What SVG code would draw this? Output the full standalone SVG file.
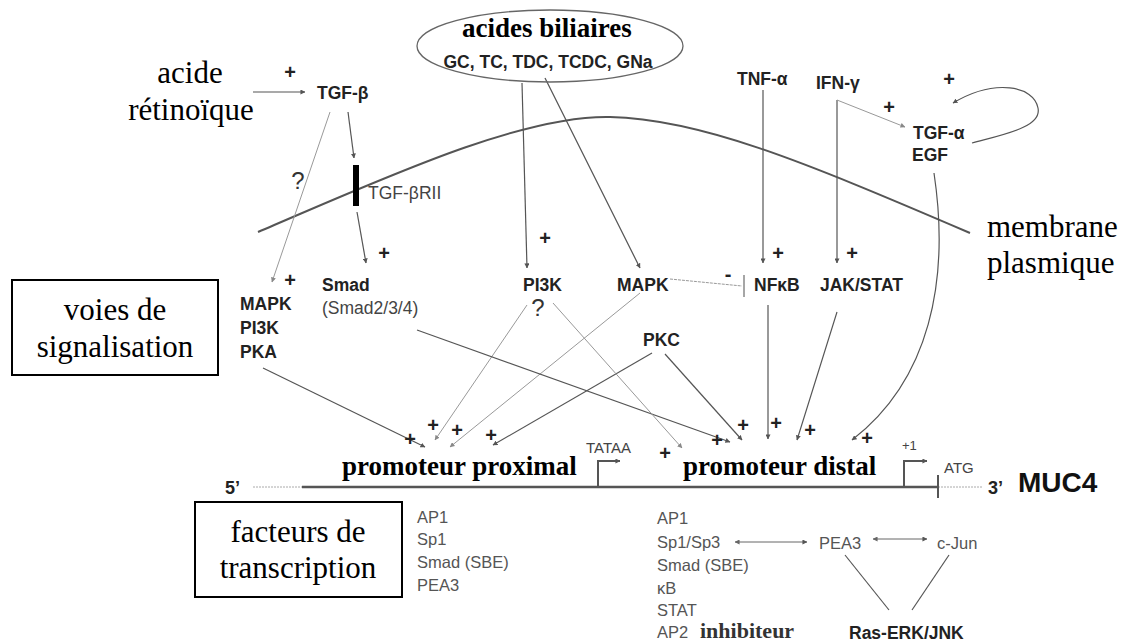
<svg xmlns="http://www.w3.org/2000/svg" width="1130" height="644" viewBox="0 0 1130 644">
<defs>
<marker id="ah" viewBox="0 0 6 6" refX="5.5" refY="3" markerWidth="5" markerHeight="5" markerUnits="userSpaceOnUse" orient="auto"><path d="M0,0 L6,3 L0,6 z" fill="#555"/></marker>
<marker id="ahl" viewBox="0 0 6 6" refX="5.5" refY="3" markerWidth="5" markerHeight="5" markerUnits="userSpaceOnUse" orient="auto"><path d="M0,0 L6,3 L0,6 z" fill="#888"/></marker>
<marker id="ahs" viewBox="0 0 6 6" refX="0.5" refY="3" markerWidth="5" markerHeight="5" markerUnits="userSpaceOnUse" orient="auto"><path d="M6,0 L0,3 L6,6 z" fill="#666"/></marker>
<style>
.ser{font-family:"Liberation Serif","Times New Roman",serif;font-size:31px;fill:#000}
.serb{font-family:"Liberation Serif","Times New Roman",serif;font-size:27px;font-weight:bold;fill:#000}
.lbl{font-family:"Liberation Sans",Arial,sans-serif;font-size:17.5px;font-weight:bold;fill:#222}
.reg{font-family:"Liberation Sans",Arial,sans-serif;font-size:17.5px;fill:#444}
.tf{font-family:"Liberation Sans",Arial,sans-serif;font-size:16.5px;fill:#555}
.sm{font-family:"Liberation Sans",Arial,sans-serif;font-size:15px;fill:#444}
.plus{font-family:"Liberation Sans",Arial,sans-serif;font-size:20px;font-weight:bold;fill:#222;text-anchor:middle}
.q{font-family:"Liberation Sans",Arial,sans-serif;font-size:24px;fill:#333;text-anchor:middle}
.mid{text-anchor:middle}
.dk{fill:none;stroke:#555;stroke-width:1.2}
.lt{fill:none;stroke:#999;stroke-width:1}
.box{fill:#fff;stroke:#000;stroke-width:2}
</style>
</defs>
<rect width="1130" height="644" fill="#fff"/>

<g id="membrane">
<path d="M258,232 C380,180 520,115 610,117 C700,119 800,160 970,233" fill="none" stroke="#555" stroke-width="2"/>
<text class="ser" x="987" y="237">membrane</text>
<text class="ser" x="987" y="273">plasmique</text>
</g>

<g id="connectors">
<line class="dk" x1="253" y1="92" x2="305" y2="92" marker-end="url(#ah)"/>
<line class="lt" x1="330" y1="112" x2="272" y2="282" marker-end="url(#ahl)"/>
<line class="dk" x1="348" y1="112" x2="354" y2="158" marker-end="url(#ah)"/>
<line class="dk" x1="357" y1="212" x2="366" y2="263" marker-end="url(#ah)"/>
<line class="dk" x1="522" y1="83" x2="527" y2="268" marker-end="url(#ah)"/>
<line class="dk" x1="545" y1="78" x2="640" y2="268" marker-end="url(#ah)"/>
<line class="dk" x1="763" y1="90" x2="763" y2="263" marker-end="url(#ah)"/>
<line class="dk" x1="837" y1="100" x2="837" y2="263" marker-end="url(#ah)"/>
<line class="lt" x1="837" y1="100" x2="905" y2="127" marker-end="url(#ahl)"/>
<path class="dk" d="M972,143 C1005,134 1042,127 1038,108 C1034,86 995,78 953,103" marker-end="url(#ah)"/>
<line class="lt" x1="670" y1="279" x2="742" y2="286" stroke-dasharray="3,1"/>
<line x1="744" y1="275" x2="744" y2="297" stroke="#888" stroke-width="1.5"/>
<line class="dk" x1="768" y1="305" x2="768" y2="439" marker-end="url(#ah)"/>
<line class="dk" x1="837" y1="312" x2="797" y2="440" marker-end="url(#ah)"/>
<path class="dk" d="M934,173 C950,280 930,380 852,440" marker-end="url(#ah)"/>
<line class="dk" x1="263" y1="368" x2="425" y2="447" marker-end="url(#ah)"/>
<line class="lt" x1="527" y1="305" x2="435" y2="440" marker-end="url(#ahl)"/>
<line class="lt" x1="640" y1="293" x2="450" y2="447" marker-end="url(#ahl)"/>
<line class="dk" x1="652" y1="353" x2="493" y2="445" marker-end="url(#ah)"/>
<line class="dk" x1="665" y1="354" x2="742" y2="440" marker-end="url(#ah)"/>
<line class="dk" x1="417" y1="330" x2="730" y2="442" marker-end="url(#ah)"/>
<line class="lt" x1="553" y1="303" x2="682" y2="448" marker-end="url(#ahl)"/>
<line x1="735" y1="542" x2="807" y2="542" stroke="#666" stroke-width="1" marker-start="url(#ahs)" marker-end="url(#ah)"/>
<line x1="873" y1="539" x2="927" y2="539" stroke="#666" stroke-width="1" marker-start="url(#ahs)" marker-end="url(#ah)"/>
<line class="dk" x1="889" y1="610" x2="845" y2="555"/>
<line class="dk" x1="912" y1="610" x2="949" y2="555"/>
</g>

<g id="signs">
<text class="plus" x="290" y="79">+</text>
<text class="plus" x="384" y="260">+</text>
<text class="plus" x="290" y="287">+</text>
<text class="plus" x="545" y="245">+</text>
<text class="plus" x="778" y="260">+</text>
<text class="plus" x="852" y="260">+</text>
<text class="plus" x="889" y="114">+</text>
<text class="plus" x="949" y="86">+</text>
<text class="plus" x="410" y="446">+</text>
<text class="plus" x="433" y="432">+</text>
<text class="plus" x="457" y="437">+</text>
<text class="plus" x="491" y="442">+</text>
<text class="plus" x="665" y="460">+</text>
<text class="plus" x="717" y="447">+</text>
<text class="plus" x="743" y="432">+</text>
<text class="plus" x="776" y="430">+</text>
<text class="plus" x="810" y="437">+</text>
<text class="plus" x="867" y="445">+</text>
<text class="plus" x="728" y="281">-</text>
<text class="q" x="298" y="189">?</text>
<text class="q" x="538" y="316">?</text>
</g>

<g id="acide-retinoique">
<text class="ser mid" x="190" y="83">acide</text>
<text class="ser mid" x="191" y="120">rétinoïque</text>
</g>

<g id="acides-biliaires">
<ellipse cx="550" cy="46" rx="133" ry="36" fill="none" stroke="#666" stroke-width="1.3"/>
<text class="serb mid" x="547" y="37">acides biliaires</text>
<text class="lbl mid" x="548" y="68">GC, TC, TDC, TCDC, GNa</text>
</g>

<g id="tgfb"><text class="lbl" x="317" y="99">TGF-β</text></g>
<g id="tgfbrii">
<rect x="353" y="165" width="6" height="41" fill="#000"/>
<text class="reg" x="368" y="199">TGF-βRII</text>
</g>
<g id="mapk-pi3k-pka">
<text class="lbl" x="240" y="310">MAPK</text>
<text class="lbl" x="240" y="334">PI3K</text>
<text class="lbl" x="240" y="358">PKA</text>
</g>
<g id="smad">
<text class="lbl" x="322" y="291">Smad</text>
<text class="reg" x="322" y="314">(Smad2/3/4)</text>
</g>
<g id="pi3k"><text class="lbl" x="523" y="291">PI3K</text></g>
<g id="mapk"><text class="lbl" x="617" y="291">MAPK</text></g>
<g id="nfkb"><text class="lbl" x="754" y="291">NFκB</text></g>
<g id="jakstat"><text class="lbl" x="820" y="291">JAK/STAT</text></g>
<g id="pkc"><text class="lbl" x="643" y="346">PKC</text></g>
<g id="tnfa"><text class="lbl" x="737" y="85">TNF-α</text></g>
<g id="ifng"><text class="lbl" x="816" y="89">IFN-γ</text></g>
<g id="tgfa-egf">
<text class="lbl" x="913" y="139">TGF-α</text>
<text class="lbl" x="912" y="161">EGF</text>
</g>

<g id="voies-box">
<rect class="box" x="12" y="280" width="206" height="95"/>
<text class="ser mid" x="115" y="320">voies de</text>
<text class="ser mid" x="115" y="357">signalisation</text>
</g>

<g id="facteurs-box">
<rect class="box" x="195" y="502" width="207" height="95"/>
<text class="ser mid" x="298" y="542">facteurs de</text>
<text class="ser mid" x="298" y="578">transcription</text>
</g>

<g id="muc4-gene">
<line x1="253" y1="487" x2="302" y2="487" stroke="#aaa" stroke-width="1" stroke-dasharray="2,1"/>
<line x1="302" y1="487" x2="938" y2="487" stroke="#555" stroke-width="2.5"/>
<line x1="938" y1="487" x2="983" y2="487" stroke="#aaa" stroke-width="1" stroke-dasharray="2,1"/>
<line x1="938" y1="475" x2="938" y2="498" stroke="#555" stroke-width="2"/>
<path d="M598,487 V461 H620" fill="none" stroke="#555" stroke-width="2" marker-end="url(#ah)"/>
<path d="M904,487 V461 H927" fill="none" stroke="#555" stroke-width="2" marker-end="url(#ah)"/>
<text class="lbl" x="225" y="494" style="font-size:18px">5’</text>
<text class="serb" x="342" y="475">promoteur proximal</text>
<text class="sm" x="586" y="453">TATAA</text>
<text class="serb" x="683" y="475">promoteur distal</text>
<text class="sm" x="902" y="450" style="font-size:13px">+1</text>
<text class="sm" x="944" y="473">ATG</text>
<text class="lbl" x="988" y="494" style="font-size:18px">3’</text>
<text class="lbl" x="1018" y="492" style="font-size:28px;fill:#111">MUC4</text>
</g>

<g id="tf-proximal">
<text class="tf" x="417" y="523">AP1</text>
<text class="tf" x="417" y="545">Sp1</text>
<text class="tf" x="417" y="568">Smad (SBE)</text>
<text class="tf" x="417" y="591">PEA3</text>
</g>

<g id="tf-distal">
<text class="tf" x="657" y="524">AP1</text>
<text class="tf" x="657" y="548">Sp1/Sp3</text>
<text class="tf" x="657" y="571">Smad (SBE)</text>
<text class="tf" x="657" y="594">κB</text>
<text class="tf" x="657" y="616">STAT</text>
<text class="tf" x="657" y="638">AP2</text>
<text class="serb" x="700" y="638" style="font-size:22px;fill:#333">inhibiteur</text>
</g>

<g id="pea3"><text class="tf" x="819" y="549">PEA3</text></g>
<g id="cjun"><text class="tf" x="937" y="549">c-Jun</text></g>
<g id="ras"><text class="lbl" x="849" y="639">Ras-ERK/JNK</text></g>
</svg>
